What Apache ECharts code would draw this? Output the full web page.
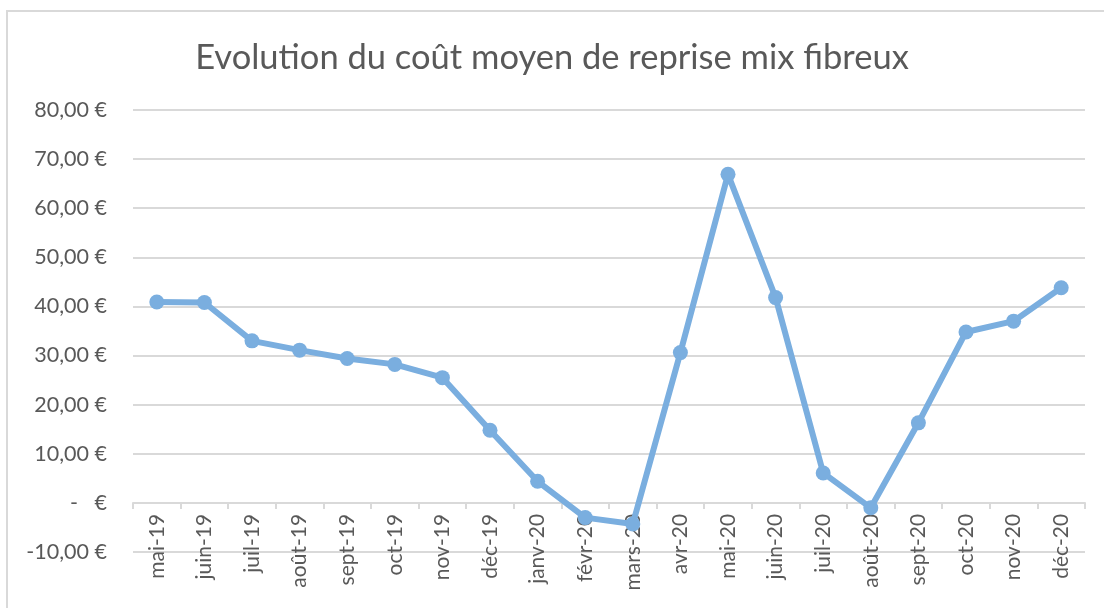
<!DOCTYPE html>
<html>
<head>
<meta charset="utf-8">
<script src="https://cdn.jsdelivr.net/npm/echarts@6/dist/echarts.min.js"></script>
<style>
	html, body {margin: 0; padding: 0; background: #fff;}
	#chart {width: 1104px; height: 608px;}
</style>
</head>
<body>
<div id="chart"></div>
<script>
var titleText = 'Evolution du coût moyen de reprise mix fibreux';
var months = ['mai-19', 'juin-19', 'juil-19', 'août-19', 'sept-19', 'oct-19', 'nov-19', 'déc-19',
	'janv-20', 'févr-20', 'mars-20', 'avr-20', 'mai-20', 'juin-20', 'juil-20', 'août-20',
	'sept-20', 'oct-20', 'nov-20', 'déc-20'];
var coutMoyen = [40.9, 40.8, 33.0, 31.1, 29.4, 28.2, 25.5, 14.8,
	4.4, -3.0, -4.3, 30.6, 66.9, 41.8, 6.1, -1.0,
	16.3, 34.8, 37.0, 43.8];
var yMin = -10;
var yMax = 80;
var yStep = 10;

function formatEuro(v) {
	// format comptable excel : zero affiche comme un tiret
	if (v === 0) {
		return '-   €';
	}
	return v.toFixed(2).replace('.', ',') + ' €';
}

var gridTop = 110;
var gridBottom = 56;
var chartHeight = 608;
// l'axe des mois est posé sur le zéro, les étiquettes doivent le suivre
var plotHeight = chartHeight - gridTop - gridBottom;
var zeroOffset = -plotHeight * (0 - yMin) / (yMax - yMin);

var myChart = echarts.init(document.getElementById('chart'));
var option = {
	animation: false,
	textStyle: {fontFamily: 'Lato'},
	title: {
		text: titleText,
		left: 'center',
		top: 35,
		textStyle: {
			fontFamily: 'Lato',
			fontSize: 34.5,
			fontWeight: 'normal',
			color: '#595959'
		}
	},
	graphic: [
		{
			type: 'rect',
			shape: {x: 7, y: 11, width: 1120, height: 640},
			style: {fill: 'none', stroke: '#d9d9d9', lineWidth: 2},
			silent: true
		}
	],
	grid: {
		left: 133,
		right: 19,
		top: gridTop,
		bottom: gridBottom
	},
	xAxis: {
		type: 'category',
		data: months,
		boundaryGap: true,
		position: 'bottom',
		offset: zeroOffset,
		axisLine: {
			show: true,
			onZero: false,
			lineStyle: {color: '#d9d9d9', width: 2}
		},
		axisTick: {
			show: true,
			length: 6,
			lineStyle: {color: '#d9d9d9', width: 2}
		},
		axisLabel: {
			interval: 0,
			rotate: 90,
			margin: 11,
			fontSize: 21,
			color: '#595959'
		}
	},
	yAxis: {
		type: 'value',
		min: yMin,
		max: yMax,
		interval: yStep,
		axisLine: {show: false},
		axisTick: {show: false},
		splitLine: {
			lineStyle: {color: '#d9d9d9', width: 2}
		},
		axisLabel: {
			margin: 26,
			fontSize: 21.5,
			color: '#595959',
			formatter: formatEuro
		}
	},
	series: [
		{
			name: 'Coût moyen',
			type: 'line',
			data: coutMoyen,
			symbol: 'circle',
			symbolSize: 15,
			lineStyle: {color: '#7aaedf', width: 6},
			itemStyle: {color: '#7aaedf'}
		}
	]
};
myChart.setOption(option, true);
</script>
</body>
</html>
